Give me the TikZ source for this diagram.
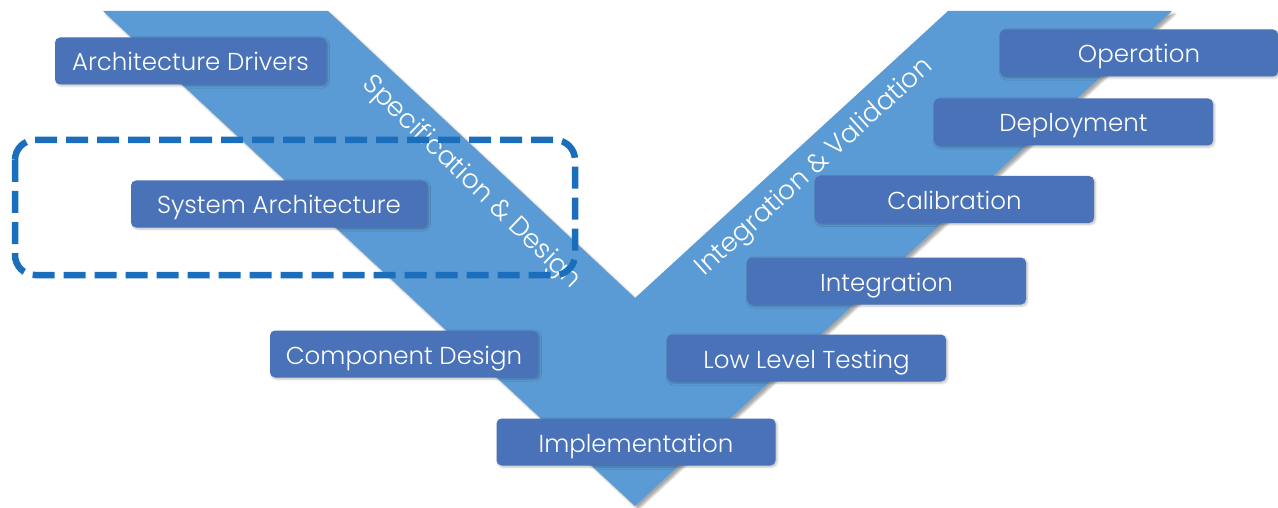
\documentclass[tikz,border=0pt]{standalone}
\usepackage{fontspec}
\setmainfont{Poppins Light}
\usetikzlibrary{shadows.blur}
\definecolor{vblue}{HTML}{5B9BD5}
\definecolor{boxblue}{HTML}{4A72B8}
\definecolor{dashblue}{HTML}{1B6EBB}
\tikzset{
  stagebox/.style={fill=boxblue, rounded corners=5pt, minimum width=279pt, minimum height=47pt,
    inner sep=0pt, text height=22pt, text depth=2pt, text=white, font=\fontsize{24.5}{28}\selectfont,
    blur shadow={shadow xshift=1.5pt, shadow yshift=-1.5pt, shadow blur steps=5, shadow opacity=25}},
  armlabel/.style={text=white, font=\fontsize{26.5}{30}\selectfont, inner sep=0pt},
  groupframe/.style={draw=dashblue, line width=6.5pt, dash pattern=on 22pt off 9pt, rounded corners=20pt}
}
\begin{document}
\begin{tikzpicture}[x=1pt,y=-1pt]
\useasboundingbox (0,0) rectangle (1278,508);
% V shape
\fill[vblue, blur shadow={shadow xshift=3pt, shadow yshift=-3pt, shadow blur steps=6, shadow opacity=35}]
  (103,11) -- (328,11) -- (635,298) -- (948,11) -- (1172,11) -- (635,506) -- cycle;
% arm labels
\node[armlabel, rotate=-44] (spec) at (471,183) {Specification \& Design};
\node[armlabel, rotate=42.3] (intval) at (815,168) {Integration \& Validation};
% stage boxes
\node[stagebox, minimum width=271pt] (drivers) at (190.5,61) {Architecture Drivers};
\node[stagebox, minimum width=296pt] (sysarch) at (279,204) {System Architecture};
\node[stagebox, minimum width=268pt] (comp) at (404,354) {Component Design};
\node[stagebox] (impl) at (636,442) {Implementation};
\node[stagebox] (llt) at (806.5,358) {Low Level Testing};
\node[stagebox] (integ) at (886.5,281) {Integration};
\node[stagebox] (calib) at (954.5,199.5) {Calibration};
\node[stagebox] (deploy) at (1073.5,122) {Deployment};
\node[stagebox, minimum width=278pt] (oper) at (1139,53) {Operation};
% dashed group frame
\draw[groupframe] (15,140) rectangle (575,275);
\end{tikzpicture}
\end{document}
